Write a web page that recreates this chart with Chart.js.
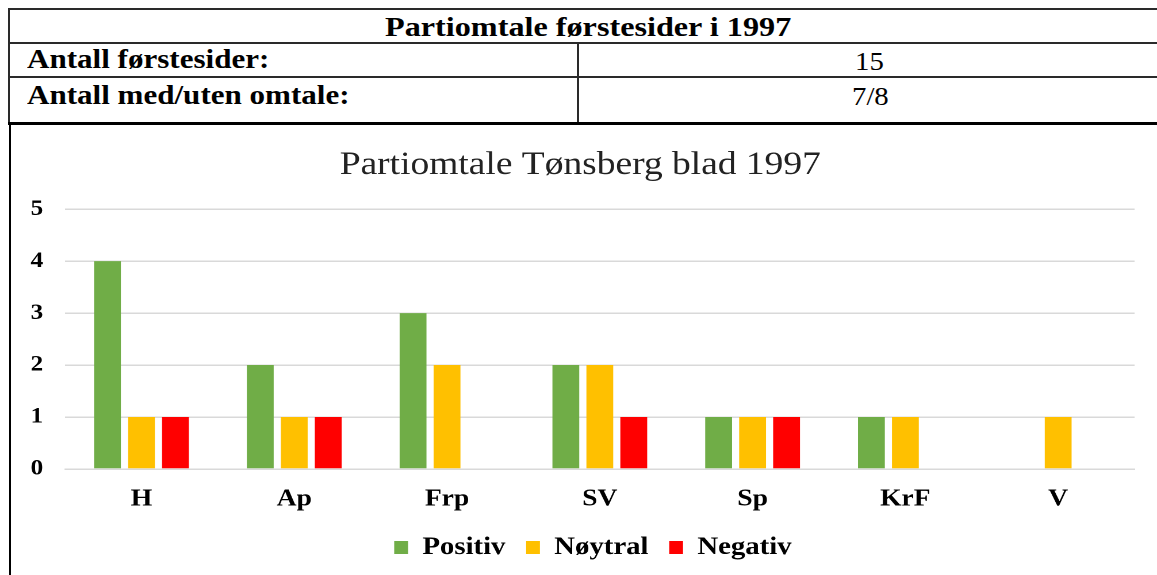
<!DOCTYPE html>
<html>
<head>
<meta charset="utf-8">
<script src="https://cdn.jsdelivr.net/npm/chart.js@4.4.1/dist/chart.umd.min.js"></script>
<style>
  html, body { margin:0; padding:0; background:#fff; }
  body { width:1157px; height:575px; position:relative; overflow:hidden; font-family:"Liberation Serif","Times New Roman",serif; color:#000; }
  .ln { position:absolute; background:#2a2a2a; }
  .txt { position:absolute; white-space:nowrap; line-height:1; transform-origin:0 0; }
  #wrap { position:absolute; left:11px; top:126px; width:997px; height:449px; transform:scaleX(1.15); transform-origin:0 0; }
</style>
</head>
<body>
<!-- table lines -->
<div class="ln" style="left:8px;top:8px;width:1149px;height:2px;"></div>
<div class="ln" style="left:8px;top:42px;width:1149px;height:2px;"></div>
<div class="ln" style="left:8px;top:76px;width:1149px;height:2px;"></div>
<div class="ln" style="left:8px;top:8px;width:2px;height:116px;"></div>
<div class="ln" style="left:577px;top:42px;width:2px;height:82px;"></div>
<div class="ln" style="left:8px;top:122px;width:1149px;height:3px;background:#000;"></div>
<div class="ln" style="left:9px;top:122px;width:2px;height:453px;background:#000;"></div>

<div id="t1" class="txt" style="font-weight:bold;font-size:28px;top:13px;">Partiomtale førstesider i 1997</div>
<div id="t2" class="txt" style="font-weight:bold;font-size:27px;left:27px;top:46px;">Antall førstesider:</div>
<div id="t3" class="txt" style="font-weight:bold;font-size:27px;left:27px;top:82px;">Antall med/uten omtale:</div>
<div id="t4" class="txt" style="font-size:25px;top:49px;">15</div>
<div id="t5" class="txt" style="font-size:25px;top:84px;">7/8</div>

<div id="wrap"><canvas id="c" width="997" height="449"></canvas></div>

<script>
// ---- data ----
const tableTitle = "Partiomtale førstesider i 1997";
const chartTitle = "Partiomtale Tønsberg blad 1997";
const categories = ["H", "Ap", "Frp", "SV", "Sp", "KrF", "V"];
const positiv = [4, 2, 3, 2, 1, 1, 0];
const noytral = [1, 1, 2, 2, 1, 1, 1];
const negativ = [1, 1, 0, 1, 1, 0, 0];
const seriesNames = ["Positiv", "Nøytral", "Negativ"];
const yTicks = [0, 1, 2, 3, 4, 5];

// ---- table text placement (slight horizontal stretch like the reference) ----
const SX = 1.15;
function place(id, center) {
  const el = document.getElementById(id);
  el.style.transform = "scaleX(" + SX + ")";
  if (center !== undefined) {
    const w = el.getBoundingClientRect().width;
    el.style.left = (center - w / 2) + "px";
  }
}
place("t1", 588); place("t2"); place("t3"); place("t4", 869); place("t5", 870);

// ---- chart ----
const FONT = '"Liberation Serif","Times New Roman",serif';
const legendShift = {
  id: "legendShift",
  afterLayout(chart) {
    const lg = chart.legend;
    if (lg) { lg.left += 11; lg.right += 11; }
  }
};
new Chart(document.getElementById("c"), {
  type: "bar",
  data: {
    labels: categories,
    datasets: [
      { label: seriesNames[0], data: positiv, backgroundColor: "#70AD47", borderWidth: 0 },
      { label: seriesNames[1], data: noytral, backgroundColor: "#FFC000", borderWidth: 0 },
      { label: seriesNames[2], data: negativ, backgroundColor: "#FF0000", borderWidth: 0 }
    ]
  },
  plugins: [legendShift],
  options: {
    responsive: false,
    devicePixelRatio: 2,
    animation: false,
    layout: { padding: { left: 13, right: 20, top: 0, bottom: 5 } },
    datasets: { bar: { categoryPercentage: 0.667, barPercentage: 0.79 } },
    plugins: {
      title: {
        display: true,
        text: chartTitle,
        color: "#222",
        font: { family: FONT, size: 32.6, weight: "normal" },
        padding: { top: 20, bottom: 24 }
      },
      legend: {
        position: "bottom",
        labels: {
          color: "#000",
          font: { family: FONT, size: 25, weight: "bold" },
          boxWidth: 12, boxHeight: 13, padding: 18
        }
      },
      tooltip: { enabled: false }
    },
    scales: {
      x: {
        grid: { display: false },
        border: { display: true, color: "#d9d9d9", width: 1.5 },
        ticks: { color: "#000", font: { family: FONT, size: 24, weight: "bold" }, padding: 8 },
        afterFit: (s) => { s.height = 48; }
      },
      y: {
        min: yTicks[0], max: yTicks[yTicks.length - 1],
        afterBuildTicks: (s) => { s.ticks = yTicks.map(v => ({ value: v })); },
        grid: { color: "#d9d9d9", lineWidth: 1.5, drawTicks: false },
        border: { display: false },
        ticks: { color: "#000", font: { family: FONT, size: 22, weight: "bold" }, padding: 19 },
        afterFit: (s) => { s.width = 34; }
      }
    }
  }
});
</script>
</body>
</html>
